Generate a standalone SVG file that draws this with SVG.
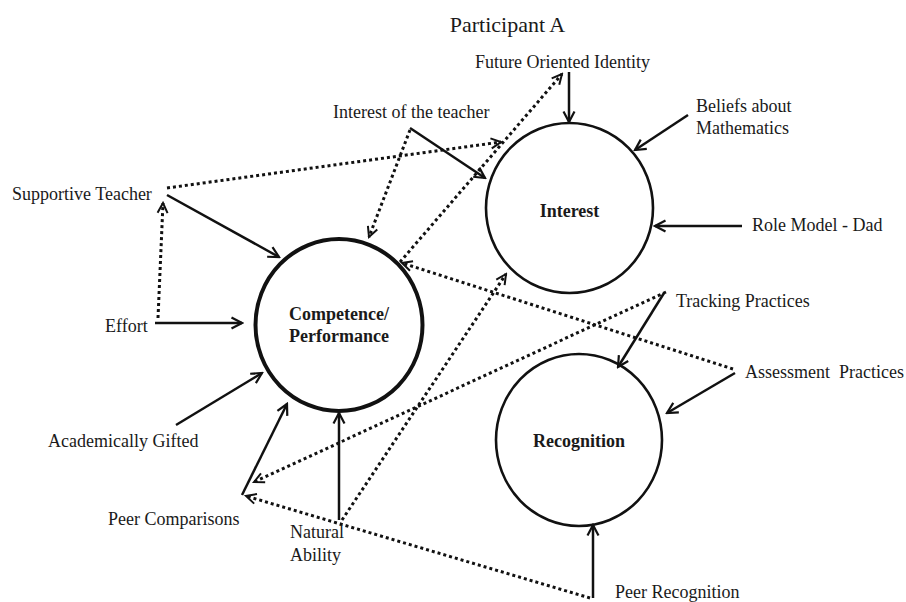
<svg xmlns="http://www.w3.org/2000/svg" width="906" height="602" viewBox="0 0 906 602">
<style>
text{font-family:"Liberation Serif","Times New Roman",serif;font-size:18px;fill:#1a1a1a}
.b{font-weight:bold}
.m{text-anchor:middle}
.c{fill:none;stroke:#111;stroke-width:2.6}
.ct{stroke-width:4}
.s{fill:none;stroke:#111;stroke-width:2.5;marker-end:url(#arr)}
.d{fill:none;stroke:#111;stroke-width:3;stroke-dasharray:3 3;marker-end:url(#arrd)}
</style>
<defs>
<marker id="arr" viewBox="0 0 14 14" refX="12" refY="7" markerWidth="14" markerHeight="14" markerUnits="userSpaceOnUse" orient="auto">
<path d="M1.5,1.5 L12,7 L1.5,12.5" fill="none" stroke="#111" stroke-width="2.2"/>
</marker>
<marker id="arrd" viewBox="0 0 14 14" refX="12" refY="7" markerWidth="14" markerHeight="14" markerUnits="userSpaceOnUse" orient="auto">
<path d="M2,2 L12,7 L2,12" fill="none" stroke="#111" stroke-width="2"/>
</marker>
</defs>
<rect width="906" height="602" fill="#fff"/>
<text x="507.5" y="32" class="m" style="font-size:22px">Participant A</text>
<g id="connectors">
<line class="s" x1="569" y1="72" x2="569" y2="122"/>
<line class="s" x1="688" y1="115" x2="635" y2="150"/>
<line class="s" x1="742" y1="226" x2="655" y2="226"/>
<line class="s" x1="410" y1="128" x2="485" y2="178"/>
<line class="s" x1="167" y1="195" x2="279" y2="257"/>
<line class="s" x1="155" y1="323" x2="242" y2="323"/>
<line class="s" x1="176" y1="425" x2="262" y2="373"/>
<line class="s" x1="242" y1="495" x2="287" y2="404"/>
<line class="s" x1="339" y1="520" x2="339" y2="413"/>
<line class="s" x1="664" y1="293" x2="618" y2="367"/>
<line class="s" x1="735" y1="373" x2="667" y2="413"/>
<line class="s" x1="593" y1="598" x2="593" y2="525"/>
<line class="d" x1="167" y1="188" x2="501" y2="142"/>
<line class="d" x1="158" y1="318" x2="163" y2="203"/>
<line class="d" x1="410" y1="130" x2="369" y2="237"/>
<line class="d" x1="342" y1="520" x2="506" y2="274"/>
<line class="d" x1="400" y1="262" x2="562" y2="74"/>
<line class="d" x1="733" y1="369" x2="402" y2="263"/>
<line class="d" x1="666" y1="292" x2="254" y2="482"/>
<line class="d" x1="590" y1="598" x2="246" y2="496"/>
</g>
<g id="interest">
<ellipse class="c" cx="569.5" cy="208" rx="83.5" ry="85"/>
<text x="569.5" y="217" class="b m">Interest</text>
</g>
<g id="competence">
<ellipse class="c ct" cx="339" cy="325" rx="83.5" ry="86"/>
<text x="339" y="320" class="b m">Competence/</text>
<text x="339" y="342" class="b m">Performance</text>
</g>
<g id="recognition">
<ellipse class="c" cx="579" cy="440" rx="83" ry="86"/>
<text x="579" y="447" class="b m">Recognition</text>
</g>
<g id="future-oriented-identity"><text x="475" y="68">Future Oriented Identity</text></g>
<g id="beliefs"><text x="696" y="112">Beliefs about</text><text x="696" y="134">Mathematics</text></g>
<g id="role-model"><text x="752" y="231">Role Model - Dad</text></g>
<g id="interest-teacher"><text x="333" y="118">Interest of the teacher</text></g>
<g id="supportive-teacher"><text x="12" y="200">Supportive Teacher</text></g>
<g id="effort"><text x="105" y="332">Effort</text></g>
<g id="academically-gifted"><text x="48" y="447">Academically Gifted</text></g>
<g id="peer-comparisons"><text x="108" y="525">Peer Comparisons</text></g>
<g id="natural-ability"><text x="290" y="538">Natural</text><text x="290" y="561">Ability</text></g>
<g id="tracking"><text x="676" y="307">Tracking Practices</text></g>
<g id="assessment"><text x="745" y="378" xml:space="preserve">Assessment  Practices</text></g>
<g id="peer-recognition"><text x="615" y="598">Peer Recognition</text></g>
</svg>
